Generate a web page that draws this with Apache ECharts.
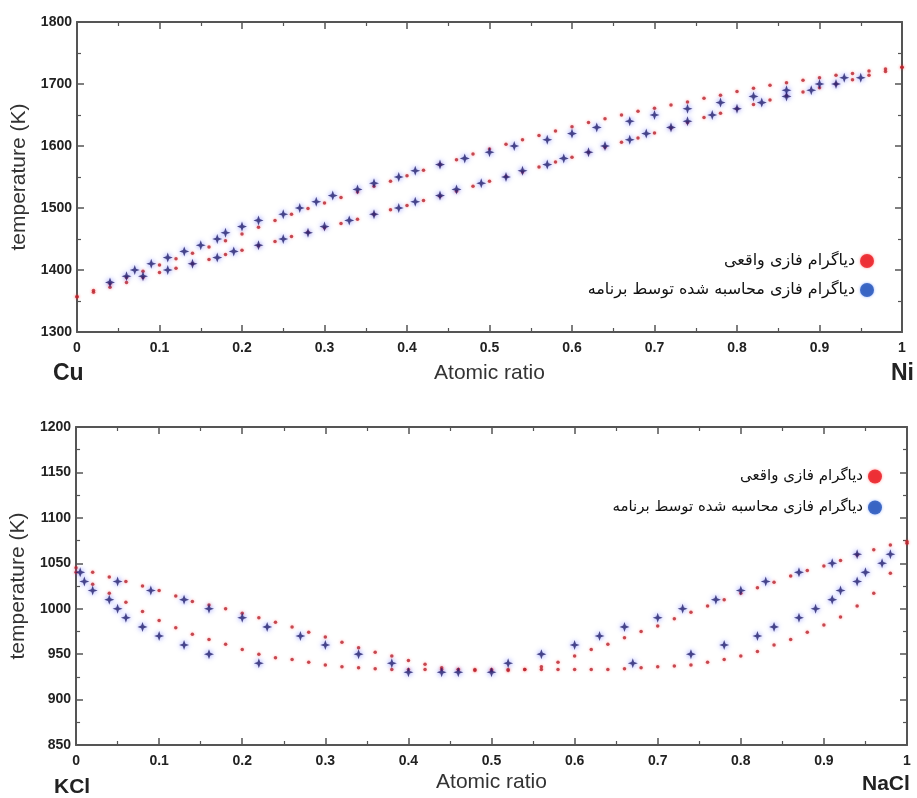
<!DOCTYPE html>
<html lang="en">
<head>
    <meta charset="UTF-8">
    <title>Phase diagrams</title>
    <script src="https://cdn.jsdelivr.net/npm/echarts@6.0.0/dist/echarts.min.js"></script>
    <style>
        html, body { margin: 0; padding: 0; background: #fff; }
    </style>
</head>
<body>
<div id="chart" style="width: 917px; height:798px;"></div>
<script>
    // legend names
    var realName = 'دیاگرام فازی واقعی';
    var calcName = 'دیاگرام فازی محاسبه شده توسط برنامه';

    // x positions of the red dotted curves
    var redX = [0, 0.02, 0.04, 0.06, 0.08, 0.1, 0.12, 0.14, 0.16, 0.18, 0.2, 0.22, 0.24, 0.26, 0.28, 0.3,
        0.32, 0.34, 0.36, 0.38, 0.4, 0.42, 0.44, 0.46, 0.48, 0.5, 0.52, 0.54, 0.56, 0.58, 0.6, 0.62, 0.64,
        0.66, 0.68, 0.7, 0.72, 0.74, 0.76, 0.78, 0.8, 0.82, 0.84, 0.86, 0.88, 0.9, 0.92, 0.94, 0.96, 0.98, 1];

    // Cu - Ni, real diagram
    var cuNiLiquidus = [1357, 1367, 1378, 1388, 1398, 1408, 1418, 1427, 1437, 1447, 1458, 1469, 1480, 1490, 1499, 1508,
        1517, 1526, 1535, 1543, 1552, 1561, 1570, 1578, 1587, 1595, 1603, 1610, 1617, 1624, 1631, 1638, 1644,
        1650, 1656, 1661, 1666, 1671, 1677, 1682, 1688, 1693, 1698, 1702, 1706, 1710, 1714, 1717, 1721, 1724, 1727];
    var cuNiSolidus = [1357, 1364, 1372, 1380, 1388, 1396, 1403, 1410, 1417, 1425, 1432, 1439, 1446, 1454, 1461, 1468,
        1475, 1482, 1490, 1497, 1504, 1512, 1519, 1527, 1535, 1543, 1551, 1558, 1566, 1574, 1582, 1590, 1598,
        1606, 1613, 1621, 1629, 1638, 1646, 1653, 1660, 1667, 1674, 1681, 1687, 1694, 1700, 1707, 1714, 1720, 1727];

    // Cu - Ni, calculated
    var cuNiCalcUpper = [[0.04, 1380], [0.06, 1390], [0.07, 1400], [0.09, 1410], [0.11, 1420], [0.13, 1430],
        [0.15, 1440], [0.17, 1450], [0.18, 1460], [0.2, 1470], [0.22, 1480], [0.25, 1490], [0.27, 1500],
        [0.29, 1510], [0.31, 1520], [0.34, 1530], [0.36, 1540], [0.39, 1550], [0.41, 1560], [0.44, 1570],
        [0.47, 1580], [0.5, 1590], [0.53, 1600], [0.57, 1610], [0.6, 1620], [0.63, 1630], [0.67, 1640],
        [0.7, 1650], [0.74, 1660], [0.78, 1670], [0.82, 1680], [0.86, 1690], [0.9, 1700], [0.93, 1710]];
    var cuNiCalcLower = [[0.08, 1390], [0.11, 1400], [0.14, 1410], [0.17, 1420], [0.19, 1430], [0.22, 1440],
        [0.25, 1450], [0.28, 1460], [0.3, 1470], [0.33, 1480], [0.36, 1490], [0.39, 1500], [0.41, 1510],
        [0.44, 1520], [0.46, 1530], [0.49, 1540], [0.52, 1550], [0.54, 1560], [0.57, 1570], [0.59, 1580],
        [0.62, 1590], [0.64, 1600], [0.67, 1610], [0.69, 1620], [0.72, 1630], [0.74, 1640], [0.77, 1650],
        [0.8, 1660], [0.83, 1670], [0.86, 1680], [0.89, 1690], [0.92, 1700], [0.95, 1710]];

    // KCl - NaCl, real diagram
    var kclLiquidus = [1045, 1040, 1035, 1030, 1025, 1020, 1014, 1008, 1004, 1000, 995, 990, 985, 980, 974, 969,
        963, 957, 952, 948, 943, 939, 935, 933, 932, 932, 932, 933, 936, 941, 948, 955, 961,
        968, 975, 981, 989, 996, 1003, 1010, 1017, 1023, 1029, 1036, 1042, 1047, 1053, 1059, 1065, 1070, 1074];
    var kclSolidus = [1040, 1027, 1017, 1007, 997, 987, 979, 972, 966, 961, 955, 950, 946, 944, 941, 938,
        936, 935, 934, 933, 933, 933, 933, 933, 933, 933, 933, 933, 933, 933, 933, 933, 933,
        934, 935, 936, 937, 938, 941, 944, 948, 953, 960, 966, 974, 982, 991, 1003, 1017, 1039, 1072];

    // KCl - NaCl, calculated
    var kclCalcUpper = [[0.005, 1040], [0.05, 1030], [0.09, 1020], [0.13, 1010], [0.16, 1000], [0.2, 990],
        [0.23, 980], [0.27, 970], [0.3, 960], [0.34, 950], [0.38, 940], [0.4, 930], [0.44, 930], [0.46, 930],
        [0.5, 930], [0.52, 940], [0.56, 950], [0.6, 960], [0.63, 970], [0.66, 980], [0.7, 990], [0.73, 1000],
        [0.77, 1010], [0.8, 1020], [0.83, 1030], [0.87, 1040], [0.91, 1050], [0.94, 1060]];
    var kclCalcLower = [[0.01, 1030], [0.02, 1020], [0.04, 1010], [0.05, 1000], [0.06, 990], [0.08, 980],
        [0.1, 970], [0.13, 960], [0.16, 950], [0.22, 940], [0.67, 940], [0.74, 950], [0.78, 960], [0.82, 970],
        [0.84, 980], [0.87, 990], [0.89, 1000], [0.91, 1010], [0.92, 1020], [0.94, 1030], [0.95, 1040],
        [0.97, 1050], [0.98, 1060]];

    function pairs(ys) {
        return redX.map(function (x, i) { return [x, ys[i]]; });
    }

    var axisColor = '#555';
    var labelFont = 'Liberation Sans';
    var starPath = 'path://M0,-10 L2.6,-2.6 L10,0 L2.6,2.6 L0,10 L-2.6,2.6 L-10,0 L-2.6,-2.6 Z';

    function xAxis(grid, pos, gap) {
        return {
            gridIndex: grid, type: 'value', min: 0, max: 1, interval: 0.1, position: pos,
            name: pos === 'bottom' ? 'Atomic ratio' : '',
            nameLocation: 'middle', nameGap: gap,
            nameTextStyle: {fontSize: 21, color: '#333', fontFamily: labelFont},
            axisLine: {onZero: false, lineStyle: {color: axisColor, width: 2}},
            axisTick: {inside: true, length: 7, lineStyle: {color: axisColor, width: 1.5}},
            minorTick: {show: true, splitNumber: 2, length: 4, lineStyle: {color: axisColor, width: 1.2}},
            splitLine: {show: false},
            axisLabel: {show: pos === 'bottom', margin: 9, fontWeight: 'bold', fontSize: 14, color: '#222', fontFamily: labelFont}
        };
    }

    function yAxis(grid, pos, min, max, step, gap) {
        return {
            gridIndex: grid, type: 'value', min: min, max: max, interval: step, position: pos,
            name: pos === 'left' ? 'temperature (K)' : '',
            nameLocation: 'middle', nameGap: gap,
            nameTextStyle: {fontSize: 21, color: '#333', fontFamily: labelFont},
            axisLine: {onZero: false, lineStyle: {color: axisColor, width: 2}},
            axisTick: {inside: true, length: 7, lineStyle: {color: axisColor, width: 1.5}},
            minorTick: {show: true, splitNumber: 2, length: 4, lineStyle: {color: axisColor, width: 1.2}},
            splitLine: {show: false},
            axisLabel: {
                show: pos === 'left', margin: 5, fontWeight: 'bold', fontSize: 14, color: '#222', fontFamily: labelFont,
                formatter: function (v) { return String(v); }
            }
        };
    }

    function redSeries(xi, yi, ys) {
        return {
            name: realName, type: 'scatter', xAxisIndex: xi, yAxisIndex: yi,
            symbol: 'circle', symbolSize: 3.5,
            itemStyle: {color: '#b8242e', shadowBlur: 3, shadowColor: 'rgba(255,60,60,0.6)'},
            data: pairs(ys)
        };
    }

    function blueSeries(xi, yi, data) {
        return {
            name: calcName, type: 'scatter', xAxisIndex: xi, yAxisIndex: yi,
            symbol: starPath, symbolSize: 10,
            itemStyle: {color: '#23216e', shadowBlur: 5, shadowColor: 'rgba(60,70,255,0.8)'},
            data: data
        };
    }

    function legend(top, right, gap, size) {
        return {
            top: top, right: right, orient: 'vertical', align: 'right', selectedMode: false,
            itemWidth: 14, itemHeight: 14, itemGap: gap,
            textStyle: {fontFamily: 'DejaVu Sans', fontSize: size, color: '#111'},
            data: [
                {name: realName, icon: 'circle', itemStyle: {color: '#e8141c', shadowBlur: 3, shadowColor: 'rgba(255,0,0,0.5)'}},
                {name: calcName, icon: 'circle', itemStyle: {color: '#1f4fb5', shadowBlur: 3, shadowColor: 'rgba(0,80,255,0.5)'}}
            ]
        };
    }

    var chart = echarts.init(document.getElementById('chart'));
    var option = {
        animation: false,
        backgroundColor: '#fff',
        grid: [
            {left: 77, right: 15, top: 22, height: 310},
            {left: 72, right: 10, top: 427, height: 318}
        ],
        xAxis: [
            xAxis(0, 'bottom', 31), xAxis(0, 'top', 0),
            xAxis(1, 'bottom', 27), xAxis(1, 'top', 0)
        ],
        yAxis: [
            yAxis(0, 'left', 1300, 1800, 100, 41), yAxis(0, 'right', 1300, 1800, 100, 0),
            yAxis(1, 'left', 850, 1200, 50, 43), yAxis(1, 'right', 850, 1200, 50, 0)
        ],
        legend: [legend(248, 38, 13, 16), legend(464, 30, 16, 15)],
        graphic: [
            {type: 'text', left: 53, top: 362, style: {text: 'Cu', font: 'bold 23px "Liberation Sans"', fill: '#222'}},
            {type: 'text', left: 891, top: 362, style: {text: 'Ni', font: 'bold 23px "Liberation Sans"', fill: '#222'}},
            {type: 'text', left: 54, top: 777, style: {text: 'KCl', font: 'bold 21px "Liberation Sans"', fill: '#222'}},
            {type: 'text', left: 862, top: 774, style: {text: 'NaCl', font: 'bold 21px "Liberation Sans"', fill: '#222'}}
        ],
        series: [
            redSeries(0, 0, cuNiLiquidus),
            redSeries(0, 0, cuNiSolidus),
            blueSeries(0, 0, cuNiCalcUpper),
            blueSeries(0, 0, cuNiCalcLower),
            redSeries(2, 2, kclLiquidus),
            redSeries(2, 2, kclSolidus),
            blueSeries(2, 2, kclCalcUpper),
            blueSeries(2, 2, kclCalcLower)
        ]
    };
    chart.setOption(option);
</script>
</body>
</html>
